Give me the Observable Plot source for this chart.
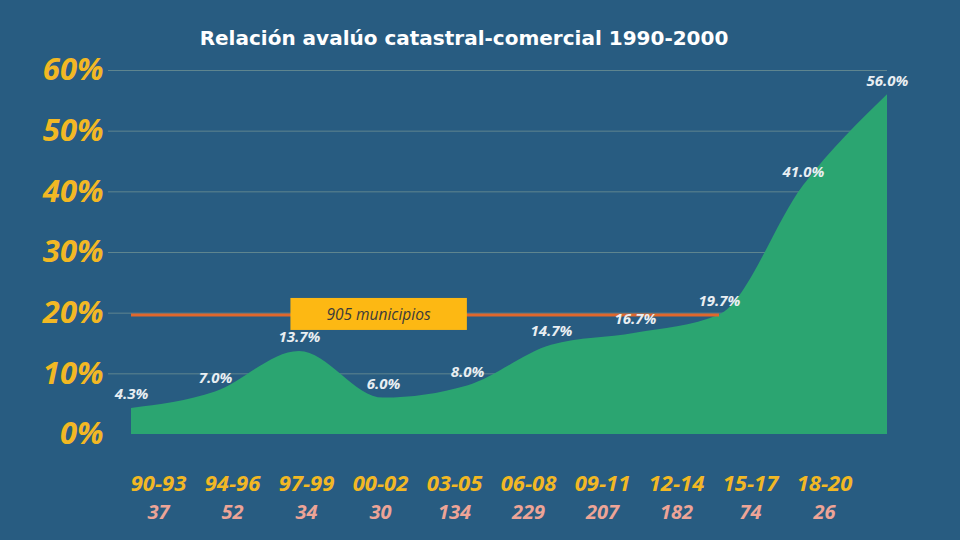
<!DOCTYPE html>
<html>
<head>
<meta charset="utf-8">
<script src="https://cdn.jsdelivr.net/npm/d3@7"></script>
<script src="https://cdn.jsdelivr.net/npm/@observablehq/plot@0.6"></script>
<style>
  html, body { margin: 0; padding: 0; background: #285c81; width: 960px; height: 540px; overflow: hidden; }
  #title {
    height: 52px; box-sizing: border-box; padding-top: 27px; padding-right: 32px;
    text-align: center; color: #ffffff; font-family: "DejaVu Sans", sans-serif;
    font-weight: bold; font-size: 20px; line-height: 22px;
  }
  svg { display: block; }
</style>
</head>
<body>
<div id="title">Relación avalúo catastral-comercial 1990-2000</div>
<div id="chart"></div>
<div id="strip"></div>
<script>
// Periods, ratio of cadastral to commercial value (%), and number of municipalities per period
const periods = ["90-93", "94-96", "97-99", "00-02", "03-05", "06-08", "09-11", "12-14", "15-17", "18-20"];
const ratios = [4.3, 7.0, 13.7, 6.0, 8.0, 14.7, 16.7, 19.7, 41.0, 56.0];
const municipios = [37, 52, 34, 30, 134, 229, 207, 182, 74, 26];
const yTicks = [0, 10, 20, 30, 40, 50, 60];

// Reference line: the 12-14 ratio, spanning the periods up to 12-14
const refEnd = 7;
const refValue = ratios[refEnd];
const refCount = d3.sum(municipios.slice(0, refEnd + 1));
const refLabel = `${refCount} municipios`;

const rows = periods.map((p, i) => ({ period: p, ratio: ratios[i], count: municipios[i] }));

const font = "'Open Sans', 'Noto Sans', sans-serif";
const yellow = "#f2b824";

const main = Plot.plot({
  width: 960,
  height: 408,
  marginLeft: 108,
  marginRight: 73,
  marginTop: 0,
  marginBottom: 0,
  style: { background: "transparent", overflow: "visible", fontFamily: font },
  x: { type: "point", domain: periods, range: [127, 890], padding: 0, axis: null },
  y: { domain: [0, 60], range: [382, 18], axis: null },
  marks: [
    Plot.ruleY(yTicks.slice(1), { stroke: "#8aa79a", strokeOpacity: 0.55, strokeWidth: 1 }),
    Plot.areaY(rows, { x: "period", y: "ratio", curve: "monotone-x", fill: "#2ba571" }),
    Plot.ruleY([{ v: refValue, a: periods[0], b: periods[refEnd] }], {
      y: "v", x1: "a", x2: "b", stroke: "#e0672c", strokeWidth: 3
    }),
    Plot.text(yTicks, {
      y: d => d, text: d => d + "%", frameAnchor: "left", textAnchor: "end", dx: -5,
      fill: yellow, fontSize: 31, fontWeight: 700, fontStyle: "italic"
    }),
    Plot.text(rows, {
      x: "period", y: "ratio", text: d => d.ratio.toFixed(1) + "%", dy: -14,
      fill: "#e8eef2", fontSize: 15, fontWeight: 700, fontStyle: "italic"
    }),
    Plot.text([refLabel], {
      x: () => periods[3], y: () => refValue, text: d => d, dx: -5,
      fill: "#3b3b3b", fontSize: 15.5, fontStyle: "italic"
    })
  ]
});
document.getElementById("chart").appendChild(main);

// Yellow box behind the reference label
d3.select(main).selectAll("text")
  .filter(function () { return this.textContent === refLabel; })
  .each(function () {
    const b = this.getBBox();
    const padX = 36, padY = 5;
    d3.select(this.parentNode).insert("rect", () => this)
      .attr("transform", this.getAttribute("transform"))
      .attr("x", b.x - padX).attr("y", b.y - padY)
      .attr("width", b.width + 2 * padX).attr("height", b.height + 2 * padY)
      .attr("fill", "#fdb813");
  });

const strip = Plot.plot({
  width: 960,
  height: 80,
  margin: 0,
  style: { background: "transparent", overflow: "visible", fontFamily: font },
  x: { type: "point", domain: periods, range: [155, 826], padding: 0, axis: null },
  marks: [
    Plot.text(rows, {
      x: "period", text: "period", frameAnchor: "top", dy: 15,
      fill: yellow, fontSize: 22, fontWeight: 700, fontStyle: "italic"
    }),
    Plot.text(rows, {
      x: "period", text: d => String(d.count), frameAnchor: "top", dy: 44,
      fill: "#eda497", fontSize: 20, fontWeight: 700, fontStyle: "italic"
    })
  ]
});
document.getElementById("strip").appendChild(strip);
</script>
</body>
</html>
